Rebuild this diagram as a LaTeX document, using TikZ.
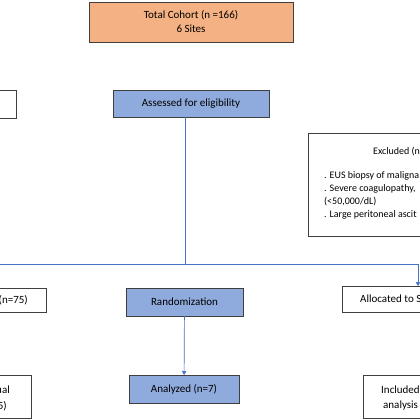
\documentclass[tikz,border=0pt]{standalone}
\usepackage{fontspec}
\setmainfont{Carlito}
\usetikzlibrary{arrows.meta, positioning}
\definecolor{cohortorange}{HTML}{F4B183}
\definecolor{stepblue}{HTML}{8FAADC}
\definecolor{boxgray}{HTML}{3F3F3F}
\definecolor{linkblue}{HTML}{4472C4}
\tikzset{
  box/.style={draw=boxgray, line width=0.9pt, inner sep=0pt, outer sep=0pt, align=center, font=\fontsize{11}{14}\selectfont},
  txt/.style={inner sep=0pt, font=\fontsize{11}{13}\selectfont},
  smalltxt/.style={inner sep=0pt, font=\fontsize{10}{12}\selectfont},
  link/.style={draw=linkblue, line width=0.7pt},
  arr/.style={link, -{Triangle[length=4pt, width=4.5pt]}}
}

\begin{document}
\begin{tikzpicture}[x=1pt, y=-1pt]
\useasboundingbox (0,0) rectangle (420,420);
\node[box, fill=cohortorange, minimum width=204pt, minimum height=40pt] (cohort) at (191,22) {Total Cohort (n =166)\\6 Sites};
\node[box, fill=stepblue, minimum width=156pt, minimum height=27pt] (assess) at (191,103.5) {Assessed for eligibility};
\node[box, minimum width=60pt, minimum height=28pt, anchor=east] (leftA) at (16,104) {};
\node[box, minimum width=150pt, minimum height=103pt, anchor=north west] (excl) at (308,133) {};
\node[smalltxt, anchor=west] (exclhead) at (373,152) {Excluded (n};
\node[smalltxt, anchor=west] (exclA) at (324,176) {. EUS biopsy of maligna};
\node[smalltxt, anchor=west] (exclB) at (324,189) {. Severe coagulopathy,};
\node[smalltxt, anchor=west] (exclC) at (324,202) {(<50,000/dL)};
\node[smalltxt, anchor=west] (exclD) at (324,215) {. Large peritoneal ascit};
\node[box, fill=stepblue, minimum width=117pt, minimum height=28pt] (rand) at (184.5,302) {Randomization};
\node[box, fill=stepblue, minimum width=110pt, minimum height=28pt] (anal) at (184,389) {Analyzed (n=7)};
\node[box, minimum width=80pt, minimum height=24pt, anchor=east] (leftB) at (46,300) {};
\node[txt, anchor=east] (leftBtext) at (28,300) {(n=75)};
\node[box, minimum width=80pt, minimum height=43pt, anchor=east] (leftC) at (31,396.5) {};
\node[txt, anchor=east] (leftCa) at (10,390) {ual};
\node[txt, anchor=east] (leftCb) at (7,406) {5)};
\node[box, minimum width=100pt, minimum height=26pt, anchor=west] (alloc) at (342,299) {};
\node[txt, anchor=west] (alloctext) at (360,299) {Allocated to S};
\node[box, minimum width=100pt, minimum height=43pt, anchor=west] (incl) at (363,396.5) {};
\node[txt, anchor=west] (inclA) at (381,390) {Included};
\node[txt, anchor=west] (inclB) at (383,406) {analysis};
\coordinate (split) at (185,264);
\coordinate (leftend) at (-5,264);
\coordinate (turn) at (418,264);
\draw[link] (assess.south -| split) -- (split);
\draw[link] (leftend) -- (turn);
\draw[arr] (turn) -- (turn |- alloc.north);
\draw[arr] (rand) -- (anal);
\end{tikzpicture}
\end{document}
